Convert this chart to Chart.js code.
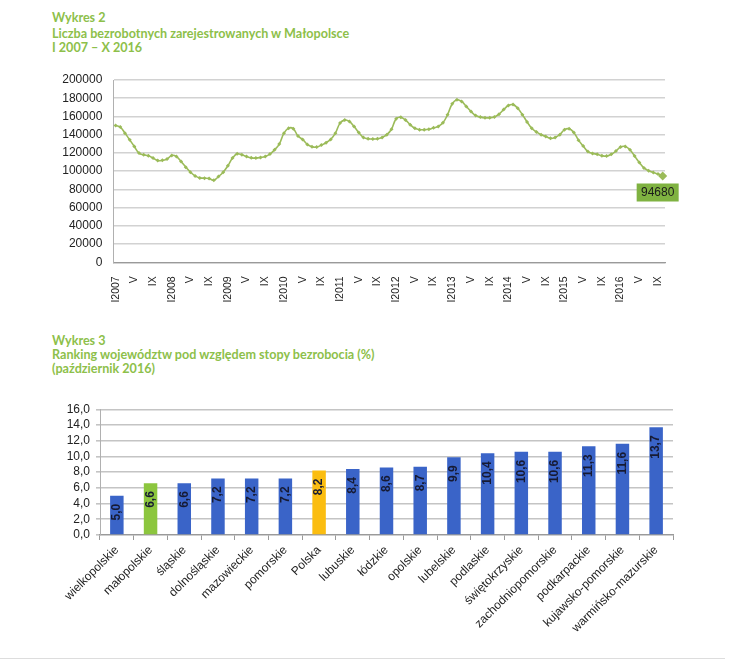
<!DOCTYPE html>
<html>
<head>
<meta charset="utf-8">
<script src="https://cdn.jsdelivr.net/npm/chart.js@4/dist/chart.umd.min.js"></script>
<style>
  body { margin: 0; background: #fff; width: 733px; height: 664px; position: relative; overflow: hidden; }
  .t { position: absolute; left: 52px; font-family: Lato, sans-serif; font-weight: bold; font-size: 12.6px; color: #8dc04a; white-space: nowrap; line-height: 14px; }
  canvas { position: absolute; left: 0; }
  #rule { position: absolute; left: 0; width: 725px; top: 658px; height: 1px; background: #ddd; }
</style>
</head>
<body>
<div class="t" style="top:11px">Wykres 2</div>
<div class="t" style="top:27px">Liczba bezrobotnych zarejestrowanych w Małopolsce</div>
<div class="t" style="top:41px">I 2007 – X 2016</div>
<canvas id="lineChart" width="700" height="260" style="top:60px"></canvas>

<div class="t" style="top:334px">Wykres 3</div>
<div class="t" style="top:348px">Ranking województw pod względem stopy bezrobocia (%)</div>
<div class="t" style="top:362px">(październik 2016)</div>
<canvas id="barChart" width="700" height="274" style="top:390px"></canvas>
<div id="rule"></div>

<script>
// registered unemployed in Małopolska, monthly
const years = [2007, 2008, 2009, 2010, 2011, 2012, 2013, 2014, 2015, 2016];
const monthMarks = ['I', '', '', '', 'V', '', '', '', 'IX', '', '', ''];

const u2007 = [150100, 148300, 141700, 134400, 127000, 119800, 117900, 116800, 114300, 111600, 111900, 113200];
const u2008 = [117200, 116100, 110600, 104400, 98900, 94800, 92600, 92300, 91900, 90100, 94100, 98900];
const u2009 = [105800, 114300, 119000, 118000, 116000, 114600, 114300, 115000, 116100, 118700, 123400, 129700];
const u2010 = [141700, 147200, 146500, 138500, 134800, 129300, 126800, 126400, 128600, 131200, 134800, 141700];
const u2011 = [152700, 156000, 154500, 149000, 142400, 137000, 135500, 135200, 135500, 137000, 140000, 146000];
const u2012 = [157500, 159000, 156000, 151000, 147000, 145500, 145500, 146000, 147500, 149000, 153000, 162000];
const u2013 = [174000, 178300, 176500, 171000, 165500, 161000, 159300, 158600, 158600, 159500, 162500, 167500];
const u2014 = [172000, 173000, 169000, 162000, 154000, 147000, 143000, 140000, 138000, 136000, 137000, 140000];
const u2015 = [145500, 146500, 142500, 134000, 127500, 121500, 119500, 118500, 117000, 116500, 118500, 122000];
const u2016 = [126500, 127000, 123500, 116500, 109500, 103500, 100500, 98500, 96800, 94680];

const yearly = [u2007, u2008, u2009, u2010, u2011, u2012, u2013, u2014, u2015, u2016];

const monthLabels = [];
const unemployed = [];
yearly.forEach((arr, i) => {
  arr.forEach((v, m) => {
    let lab = monthMarks[m];
    if (m === 0) lab = 'I' + years[i];
    monthLabels.push(lab);
    unemployed.push(v);
  });
});

// unemployment rate by voivodeship, October 2016 (%)
const regions = ['wielkopolskie', 'małopolskie', 'śląskie', 'dolnośląskie', 'mazowieckie', 'pomorskie', 'Polska',
  'lubuskie', 'łódzkie', 'opolskie', 'lubelskie', 'podlaskie', 'świętokrzyskie', 'zachodniopomorskie',
  'podkarpackie', 'kujawsko-pomorskie', 'warmińsko-mazurskie'];
const rates = [5.0, 6.6, 6.6, 7.2, 7.2, 7.2, 8.2, 8.4, 8.6, 8.7, 9.9, 10.4, 10.6, 10.6, 11.3, 11.6, 13.7];

const GREEN = '#9bbb59';
const last = unemployed.length - 1;

const lastLabel = {
  id: 'lastLabel',
  afterDatasetsDraw(chart) {
    const pt = chart.getDatasetMeta(0).data[last];
    const ctx = chart.ctx;
    const w = 42, h = 18;
    const cx = pt.x - 5, cy = pt.y + 16.5;
    ctx.save();
    ctx.fillStyle = '#7fb241';
    ctx.fillRect(cx - w / 2, cy - h / 2, w, h);
    ctx.fillStyle = '#1a1a1a';
    ctx.font = '12px "Liberation Sans", Arial, sans-serif';
    ctx.textAlign = 'center';
    ctx.textBaseline = 'middle';
    ctx.fillText(String(unemployed[last]), cx, cy + 0.5);
    ctx.restore();
  }
};

new Chart(document.getElementById('lineChart'), {
  type: 'line',
  data: {
    labels: monthLabels,
    datasets: [{
      data: unemployed,
      borderColor: GREEN,
      backgroundColor: GREEN,
      borderWidth: 1.6,
      tension: 0.4,
      pointStyle: 'rectRot',
      pointRadius: c => c.dataIndex === last ? 4.5 : 2,
      pointBorderWidth: 0,
      fill: false
    }]
  },
  plugins: [lastLabel],
  options: {
    responsive: false,
    animation: false,
    layout: { padding: { top: 20, right: 35, left: 0, bottom: 0 } },
    plugins: { legend: { display: false }, tooltip: { enabled: false } },
    scales: {
      x: {
        offset: true,
        grid: { display: false },
        border: { color: '#9a9a9a', width: 1.2 },
        ticks: {
          autoSkip: false, minRotation: 90, maxRotation: 90, padding: 6,
          color: '#222', font: { family: '"Liberation Sans", Arial', size: 10.5 }
        },
        afterFit: s => { s.height = 57.7; }
      },
      y: {
        min: 0, max: 200000,
        grid: { color: '#d2d2d2', lineWidth: 1.5, drawTicks: false },
        border: { color: '#b0b0b0' },
        ticks: {
          stepSize: 20000, padding: 11, color: '#222', autoSkip: false,
          font: { family: '"Liberation Sans", Arial', size: 12 },
          callback: v => String(v)
        },
        afterFit: s => { s.width = 113.3; }
      }
    }
  }
});

const barLabels = {
  id: 'barLabels',
  afterDatasetsDraw(chart) {
    const ctx = chart.ctx;
    chart.getDatasetMeta(0).data.forEach((bar, i) => {
      ctx.save();
      ctx.translate(bar.x, bar.y + 8);
      ctx.rotate(-Math.PI / 2);
      ctx.fillStyle = '#161a33';
      ctx.font = 'bold 12px "Liberation Sans", Arial, sans-serif';
      ctx.textAlign = 'right';
      ctx.textBaseline = 'middle';
      ctx.fillText(rates[i].toFixed(1).replace('.', ','), 0, 0);
      ctx.restore();
    });
  }
};

new Chart(document.getElementById('barChart'), {
  type: 'bar',
  data: {
    labels: regions,
    datasets: [{
      data: rates,
      backgroundColor: c => regions[c.dataIndex] === 'małopolskie' ? '#8cc63e'
        : regions[c.dataIndex] === 'Polska' ? '#fbbd10' : '#3a64c8',
      categoryPercentage: 1,
      barPercentage: 0.4
    }]
  },
  plugins: [barLabels],
  options: {
    responsive: false,
    animation: false,
    layout: { padding: { top: 19.3, right: 27, left: 0, bottom: 0 } },
    plugins: { legend: { display: false }, tooltip: { enabled: false } },
    scales: {
      x: {
        grid: { drawOnChartArea: false, color: '#9a9a9a', tickLength: 5 },
        border: { color: '#9a9a9a', width: 1.2 },
        ticks: {
          autoSkip: false, minRotation: 45, maxRotation: 45, padding: 3,
          color: '#222', font: { family: '"Liberation Sans", Arial', size: 12 }
        },
        afterFit: s => { s.height = 129; }
      },
      y: {
        min: 0, max: 16,
        grid: { color: '#c4c4c4', lineWidth: 1.6, tickLength: 4 },
        border: { color: '#b0b0b0' },
        ticks: {
          stepSize: 2, padding: 6, color: '#222', autoSkip: false,
          font: { family: '"Liberation Sans", Arial', size: 12 },
          callback: v => v.toFixed(1).replace('.', ',')
        },
        afterFit: s => { s.width = 100; }
      }
    }
  }
});
</script>
</body>
</html>
